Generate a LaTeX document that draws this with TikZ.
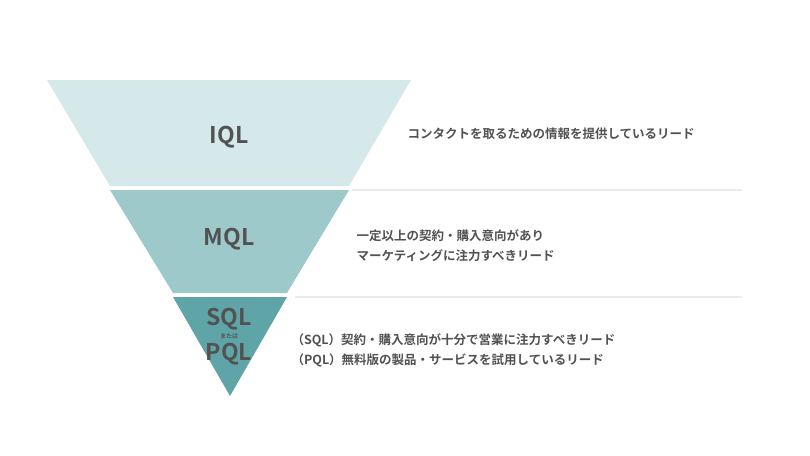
\documentclass[tikz,border=0pt]{standalone}
\usepackage{fontspec}
\setmainfont{Noto Sans CJK JP}[BoldFont={Noto Sans CJK JP Bold}]
\begin{document}
\begin{tikzpicture}[x=1pt,y=-1pt,
  lbl/.style={font=\bfseries\fontsize{23}{26}\selectfont,text=black!68},
  desc/.style={font=\bfseries\fontsize{12.5}{20}\selectfont,text=black!68,align=left,anchor=west},
  sep/.style={draw=black!8,line width=2.5pt}]
\useasboundingbox (0,0) rectangle (810,455);
\definecolor{cA}{HTML}{D5E8EA}
\definecolor{cB}{HTML}{9EC9CB}
\definecolor{cC}{HTML}{5FA5A7}
\fill[cA] (47,80) -- (411,80) -- (349,186) -- (110,186) -- cycle;
\fill[cB] (110,190) -- (349,190) -- (287,293) -- (173,293) -- cycle;
\fill[cC] (173,297) -- (287,297) -- (230,396) -- cycle;
\coordinate (s1a) at (352,190); \coordinate (s1b) at (742,190);
\coordinate (s2a) at (295,297); \coordinate (s2b) at (742,297);
\draw[sep] (s1a) -- (s1b);
\draw[sep] (s2a) -- (s2b);
\node[lbl] (iql) at (229,137) {IQL};
\node[lbl] (mql) at (229,239) {MQL};
\node[lbl] (sql) at (229,319) {SQL};
\node[font=\bfseries\fontsize{6}{6}\selectfont,text=black!68] (mata) at (229,336) {または};
\node[lbl] (pql) at (229,354) {PQL};
\node[desc] (d1) at (404,134) {コンタクトを取るための情報を提供しているリード};
\node[desc] (d2) at (353,246) {一定以上の契約・購入意向があり\\マーケティングに注力すべきリード};
\node[desc] (d3) at (288,350) {（SQL）契約・購入意向が十分で営業に注力すべきリード\\（PQL）無料版の製品・サービスを試用しているリード};
\end{tikzpicture}
\end{document}
